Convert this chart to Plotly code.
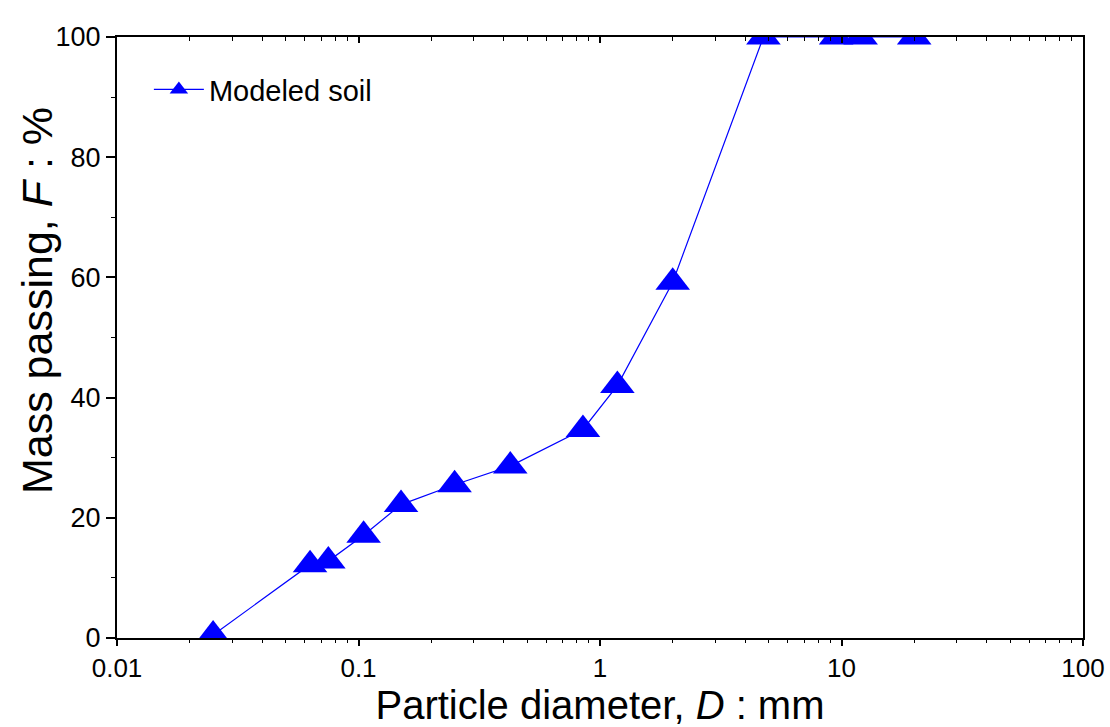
import plotly.graph_objects as go

# Grain-size distribution of the modeled soil
diameter_mm = [0.025, 0.063, 0.075, 0.105, 0.15, 0.25, 0.425, 0.85, 1.18, 2.0, 4.75, 9.5, 12.0, 20.0]
passing_pct = [0.5, 12.2, 12.8, 17.1, 22.2, 25.5, 28.6, 34.7, 42.0, 59.2, 100.0, 100.0, 100.0, 100.0]

x_ticks = [0.01, 0.1, 1, 10, 100]
x_tick_text = ["0.01", "0.1", "1", "10", "100"]
y_ticks = [0, 20, 40, 60, 80, 100]

FONT = "Liberation Sans, Arial, sans-serif"
BLUE = "#0000ff"

fig = go.Figure()
fig.add_trace(go.Scatter(
    x=diameter_mm, y=passing_pct,
    mode="lines+markers",
    name="Modeled soil",
    line=dict(color=BLUE, width=1.2),
    marker=dict(symbol="triangle-up", size=30, color=BLUE, line=dict(width=0)),
    cliponaxis=True,
))

# invisible trace carrying the top axis (inside ticks)
fig.add_trace(go.Scatter(
    x=[x_ticks[0], x_ticks[-1]], y=[0, 0], xaxis="x2",
    mode="markers", marker=dict(opacity=0), showlegend=False, hoverinfo="skip",
))

fig.update_layout(
    width=1110, height=727,
    margin=dict(l=117, r=27, t=37, b=89),
    paper_bgcolor="white", plot_bgcolor="white",
    font=dict(family=FONT, color="black"),
    showlegend=True,
    legend=dict(
        x=0.033, y=0.955, xanchor="left", yanchor="top",
        bgcolor="rgba(0,0,0,0)", borderwidth=0,
        font=dict(size=29, family=FONT),
        itemsizing="trace",
        itemwidth=50,
    ),
    xaxis=dict(
        type="log", range=[-2, 2], automargin=False,
        tickvals=x_ticks, ticktext=x_tick_text,
        ticks="outside", ticklen=6, tickwidth=1.5, tickcolor="black",
        minor=dict(ticks="outside", ticklen=3, tickwidth=1.2, tickcolor="black", dtick="D1", showgrid=False),
        showline=True, linecolor="black", linewidth=2,
        showgrid=False, zeroline=False,
        tickfont=dict(size=26, family=FONT),
        title=dict(text="Particle diameter, <i>D</i> : mm", font=dict(size=40, family=FONT), standoff=6),
    ),
    xaxis2=dict(
        type="log", range=[-2, 2], overlaying="x", side="top", automargin=False,
        tickvals=x_ticks, showticklabels=False,
        ticks="inside", ticklen=6, tickwidth=1.5, tickcolor="black",
        minor=dict(ticks="inside", ticklen=4, tickwidth=1.2, tickcolor="black", dtick="D1", showgrid=False),
        showline=True, linecolor="black", linewidth=2,
        showgrid=False, zeroline=False,
    ),
    yaxis=dict(
        range=[0, 100], tickvals=y_ticks, automargin=False,
        ticks="outside", ticklen=9, tickwidth=1.5, tickcolor="black",
        minor=dict(ticks="outside", ticklen=4, tickwidth=1.2, tickcolor="black", dtick=10, showgrid=False),
        showline=True, linecolor="black", linewidth=2, mirror=True,
        showgrid=False, zeroline=False,
        tickfont=dict(size=27, family=FONT),
    ),
    annotations=[dict(
        text="Mass passing, <i>F</i> : %",
        xref="paper", yref="paper", x=-0.083, y=0.562,
        xanchor="center", yanchor="middle", textangle=-90, showarrow=False,
        font=dict(size=43, family=FONT, color="black"),
    )],
)

fig.write_html("out.html")
